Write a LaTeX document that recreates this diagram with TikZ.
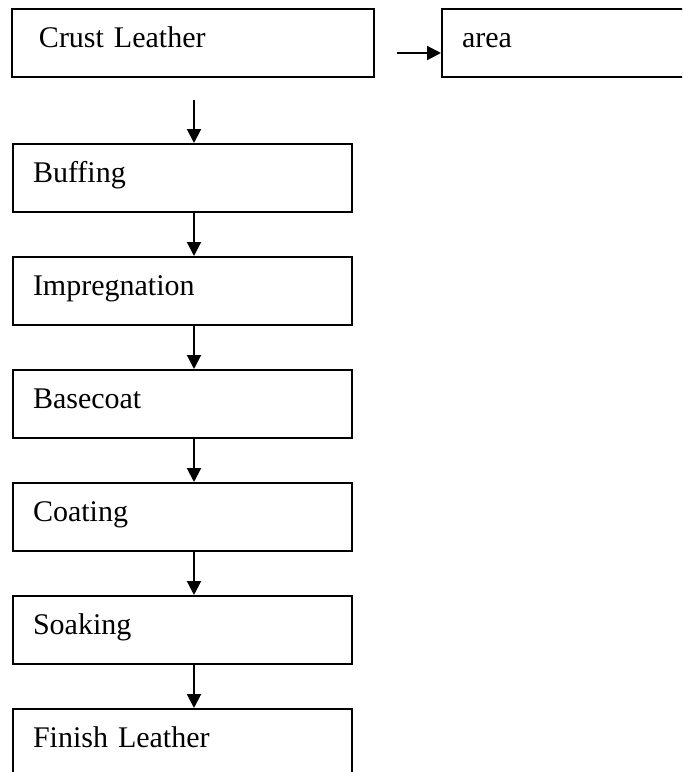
\documentclass[tikz,border=0pt]{standalone}
\usepackage{fontspec}
\setmainfont{Liberation Serif}
\usetikzlibrary{arrows.meta,positioning}
\begin{document}
\begin{tikzpicture}[
  stepbox/.style={draw, line width=1pt, inner xsep=10pt, inner ysep=0pt, text width=149.5pt, align=left,
    text height=19pt, text depth=15pt, font=\fontsize{15}{18}\selectfont},
  arrow/.style={-{Triangle[length=7pt,width=7pt]}, line width=1pt}
]
\useasboundingbox (0,0) rectangle (341pt,-386pt);
\clip (0,0) rectangle (341pt,-386pt);
\node[stepbox, anchor=north west, inner xsep=13.5pt, text width=154pt] (crust) at (5.5pt,-4pt) {Crust Leather};
\node[stepbox, anchor=north west] (area) at (220.5pt,-4pt) {area};
\node[stepbox, anchor=north west] (buffing) at (6pt,-71.5pt) {Buffing};
\node[stepbox, below=21.5pt of buffing] (impregnation) {Impregnation};
\node[stepbox, below=21.5pt of impregnation] (basecoat) {Basecoat};
\node[stepbox, below=21.5pt of basecoat] (coating) {Coating};
\node[stepbox, below=21.5pt of coating] (soaking) {Soaking};
\node[stepbox, below=21.5pt of soaking] (finish) {Finish Leather};
\coordinate (col) at ([xshift=5.75pt]buffing.north);
\coordinate (crustout) at ([yshift=-11pt]crust.south -| col);
\coordinate (crustside) at ([xshift=11pt,yshift=-5pt]crust.east);
\draw[arrow] (crustside) -- ([yshift=-5pt]area.west);
\draw[arrow] (crustout) -- (col);
\draw[arrow] ([xshift=5.75pt]buffing.south) -- ([xshift=5.75pt]impregnation.north);
\draw[arrow] ([xshift=5.75pt]impregnation.south) -- ([xshift=5.75pt]basecoat.north);
\draw[arrow] ([xshift=5.75pt]basecoat.south) -- ([xshift=5.75pt]coating.north);
\draw[arrow] ([xshift=5.75pt]coating.south) -- ([xshift=5.75pt]soaking.north);
\draw[arrow] ([xshift=5.75pt]soaking.south) -- ([xshift=5.75pt]finish.north);
\end{tikzpicture}
\end{document}
